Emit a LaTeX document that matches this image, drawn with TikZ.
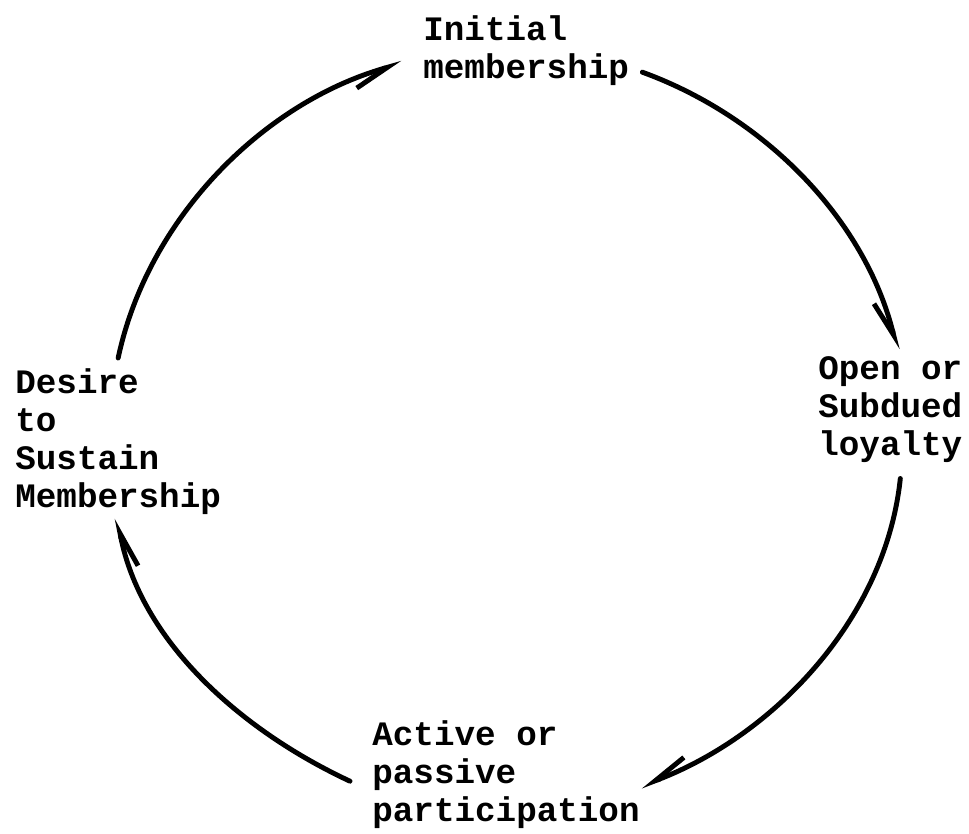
\documentclass[tikz,border=0pt]{standalone}
\usepackage{fontspec}
\setmonofont{Liberation Mono}
\usetikzlibrary{arrows.meta, positioning}

\begin{document}
\begin{tikzpicture}[
    x=0.02cm, y=0.02cm,
    stage node/.style={inner sep=0pt, anchor=base west, align=left,
        font=\ttfamily\bfseries\fontsize{19.5}{21.6}\selectfont},
    cycle edge/.style={line width=2.8pt, line cap=round, looseness=0.9,
        -{Straight Barb[harpoon, swap, length=0.7cm, width=0.46cm]}}
]
    \useasboundingbox (0,0) rectangle (969,-833);

    % Nodes
    \node[stage node] (Initial) at (423,-78) {Initial\\membership};
    \node[stage node] (Open) at (818,-455) {Open or\\Subdued\\loyalty};
    \node[stage node] (Active) at (372,-821) {Active or\\passive\\participation};
    \node[stage node] (Desire) at (15,-507) {Desire\\to\\Sustain\\Membership};

    % Edges
    \draw[cycle edge] ([shift={(0,10)}]Desire.north) to[out=78, in=196] ([shift={(-21,-13)}]Initial.west);
    \draw[cycle edge] ([shift={(13,-22)}]Initial.east) to[out=-20, in=104] ([shift={(7,6)}]Open.north);
    \draw[cycle edge] ([shift={(10,-16)}]Open.south) to[out=-96, in=21] ([shift={(1,-12)}]Active.east);
    \draw[cycle edge] ([shift={(-22,-7)}]Active.west) to[out=155, in=281] ([shift={(-1,-4)}]Desire.south);
\end{tikzpicture}
\end{document}
